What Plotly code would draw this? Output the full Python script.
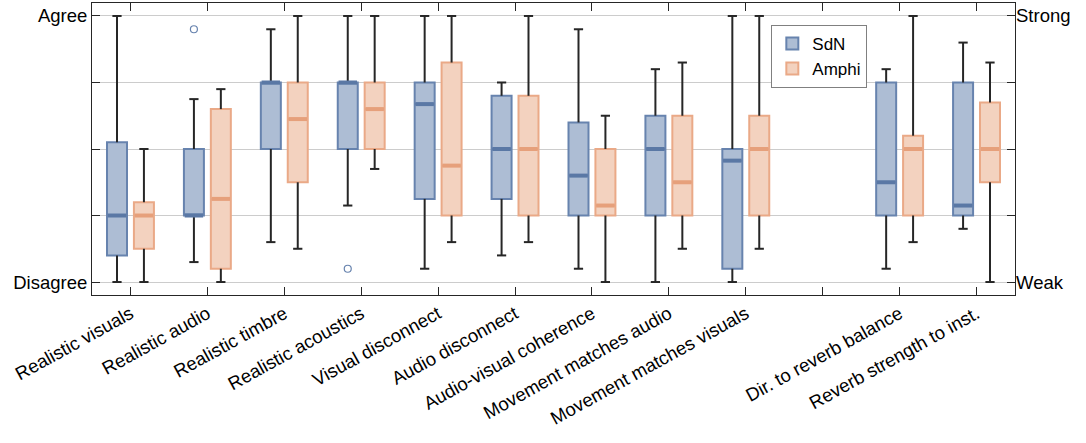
import plotly.graph_objects as go

categories = ["Realistic visuals", "Realistic audio", "Realistic timbre", "Realistic acoustics",
              "Visual disconnect", "Audio disconnect", "Audio-visual coherence",
              "Movement matches audio", "Movement matches visuals",
              "Dir. to reverb balance", "Reverb strength to inst."]
positions = [1, 2, 3, 4, 5, 6, 7, 8, 9, 11, 12]

# SdN statistics
sdn_low = [1.0, 1.3, 1.6, 2.15, 1.2, 1.4, 1.2, 1.0, 1.0, 1.2, 1.8]
sdn_q1 = [1.4, 2.0, 3.0, 3.0, 2.25, 2.25, 2.0, 2.0, 1.2, 2.0, 2.0]
sdn_med = [2.0, 2.0, 4.0, 4.0, 3.675, 3.0, 2.6, 3.0, 2.825, 2.5, 2.15]
sdn_q3 = [3.1, 3.0, 4.0, 4.0, 4.0, 3.8, 3.4, 3.5, 3.0, 4.0, 4.0]
sdn_high = [5.0, 3.75, 4.8, 5.0, 5.0, 4.0, 4.8, 4.2, 5.0, 4.2, 4.6]
sdn_out_cat = [2, 4]
sdn_out_val = [4.8, 1.2]

# Amphi statistics
amp_low = [1.0, 1.0, 1.5, 2.7, 1.6, 1.6, 1.0, 1.5, 1.5, 1.6, 1.0]
amp_q1 = [1.5, 1.2, 2.5, 3.0, 2.0, 2.0, 2.0, 2.0, 2.0, 2.0, 2.5]
amp_med = [2.0, 2.25, 3.45, 3.6, 2.75, 3.0, 2.15, 2.5, 3.0, 3.0, 3.0]
amp_q3 = [2.2, 3.6, 4.0, 4.0, 4.3, 3.8, 3.0, 3.5, 3.5, 3.2, 3.7]
amp_high = [3.0, 3.9, 5.0, 5.0, 5.0, 5.0, 3.5, 4.3, 5.0, 5.0, 4.3]

ytick_vals = [1, 2, 3, 4, 5]
yleft_text = ["Disagree", "", "", "", "Agree"]
yright_text = ["Weak", "", "", "", "Strong"]

FONT = "Liberation Sans, Arial, sans-serif"
FS = 18.5
OFF = 0.175
BW = 0.26
CAP = 0.06

series = [
    dict(name="SdN", off=-OFF, low=sdn_low, q1=sdn_q1, med=sdn_med, q3=sdn_q3, high=sdn_high,
         fill="#adbdd4", line="#6783ae", medc="#5a78a5"),
    dict(name="Amphi", off=OFF, low=amp_low, q1=amp_q1, med=amp_med, q3=amp_q3, high=amp_high,
         fill="#f3d2bf", line="#eaa987", medc="#e6a07b"),
]

fig = go.Figure()

# whiskers
for s in series:
    wx, wy = [], []
    for p, lo, a, b, hi in zip(positions, s["low"], s["q1"], s["q3"], s["high"]):
        x = p + s["off"]
        wx += [x, x, None, x, x, None, x - CAP, x + CAP, None, x - CAP, x + CAP, None]
        wy += [b, hi, None, lo, a, None, hi, hi, None, lo, lo, None]
    fig.add_trace(go.Scatter(x=wx, y=wy, mode="lines", line=dict(color="#262626", width=2),
                             showlegend=False, hoverinfo="skip"))

# boxes
for s in series:
    xs = [p + s["off"] for p in positions]
    fig.add_trace(go.Box(x=xs, q1=s["q1"], median=s["med"], q3=s["q3"],
                         lowerfence=s["q1"], upperfence=s["q3"], name=s["name"],
                         width=BW, fillcolor=s["fill"], line=dict(color=s["line"], width=2),
                         boxpoints=False, hoverinfo="skip"))

# medians
for s in series:
    mx, my = [], []
    for p, m in zip(positions, s["med"]):
        x = p + s["off"]
        mx += [x - BW / 2 + 0.01, x + BW / 2 - 0.01, None]
        my += [m, m, None]
    fig.add_trace(go.Scatter(x=mx, y=my, mode="lines", line=dict(color=s["medc"], width=4),
                             showlegend=False, hoverinfo="skip"))

# outliers
fig.add_trace(go.Scatter(x=[positions[c - 1] - OFF for c in sdn_out_cat], y=sdn_out_val,
                         mode="markers", marker=dict(symbol="circle-open", size=7,
                                                     color="#6783ae", line=dict(width=1.2)),
                         showlegend=False, hoverinfo="skip"))

# invisible trace for right axis
fig.add_trace(go.Scatter(x=[1], y=[3], yaxis="y2", mode="markers", marker=dict(opacity=0),
                         showlegend=False, hoverinfo="skip"))

xticktext = []
for i in range(1, 13):
    if i in positions:
        xticktext.append(categories[positions.index(i)])
    else:
        xticktext.append("")

fig.update_layout(
    width=1086, height=443,
    margin=dict(l=92, r=71, t=3, b=148),
    plot_bgcolor="white", paper_bgcolor="white",
    boxmode="overlay",
    font=dict(family=FONT, size=FS, color="#000000"),
    showlegend=True,
    legend=dict(x=0.736, y=0.925, xanchor="left", yanchor="top",
                bordercolor="#808080", borderwidth=1, bgcolor="white",
                font=dict(size=17), tracegroupgap=0, itemwidth=30),
    xaxis=dict(range=[0.5, 12.5], tickvals=list(range(1, 13)), ticktext=xticktext,
               tickangle=-29, ticks="inside", ticklen=8, tickcolor="#262626",
               showline=True, linecolor="#262626", linewidth=1, mirror="ticks",
               showgrid=False, zeroline=False, tickfont=dict(size=FS), automargin=False),
    yaxis=dict(range=[0.805, 5.195], tickvals=ytick_vals, ticktext=yleft_text,
               ticks="inside", ticklen=8, tickcolor="#262626",
               showline=True, linecolor="#262626", linewidth=1, mirror=True,
               showgrid=True, gridcolor="#cccccc", gridwidth=1, zeroline=False,
               tickfont=dict(size=FS), automargin=False),
    yaxis2=dict(range=[0.805, 5.195], tickvals=ytick_vals, ticktext=yright_text,
                overlaying="y", side="right", ticks="inside", ticklen=8, tickcolor="#262626",
                showline=False, showgrid=False, zeroline=False, tickfont=dict(size=FS),
                automargin=False),
)

fig.write_html("out.html", config={"displayModeBar": False},
               post_script="document.body.style.margin='0';")
